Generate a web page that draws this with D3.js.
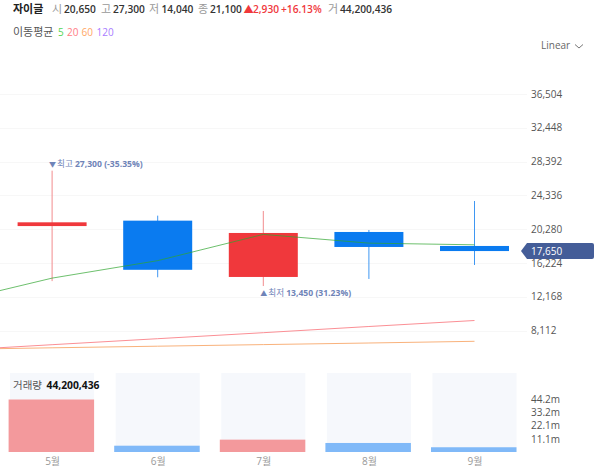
<!DOCTYPE html>
<html>
<head>
<meta charset="utf-8">
<script src="https://cdn.jsdelivr.net/npm/d3@7"></script>
<style>
  html, body { margin: 0; background: #fff; }
  text { font-family: "Open Sans", "Noto Sans CJK KR", sans-serif; }
</style>
</head>
<body>
<script>
// data
var months = ['5월', '6월', '7월', '8월', '9월'];
var opens = [20650, 21300, 14540, 19940, 18260];
var closes = [21100, 15400, 19820, 18140, 17650];
var highs = [27300, 21900, 22460, 20180, 23660];
var lows = [14040, 14500, 13450, 14300, 15980];
var volumes = [44200436, 5300000, 10400000, 7600000, 4000000];
var isUp = [true, false, true, false, false];

// the moving averages start one month before the first candle
var maMonths = ['4월'].concat(months);
var ma5 = [11370, 14400, 16500, 19650, 18600, 18400];
var ma20 = [5675, 6407, 7128, 7848, 8592, 9312];
var ma60 = [5831, 6035, 6227, 6419, 6611, 6815];

var priceTicks = [8112, 12168, 16224, 20280, 24336, 28392, 32448, 36504];
var volumeTicks = [11100000, 22100000, 33200000, 44200000];
var lastPrice = 17650;

// header pieces: text, left edge, kind
var headerParts = [
  ['자이글', 13, 'name'],
  ['시', 52, 'label'], ['20,650', 64, 'value'],
  ['고', 101, 'label'], ['27,300', 113, 'value'],
  ['저', 149, 'label'], ['14,040', 161.5, 'value'],
  ['종', 198, 'label'], ['21,100', 210, 'value'],
  ['▲', 243.5, 'change'], ['2,930', 253, 'change'], ['+16.13%', 281, 'change'],
  ['거', 328, 'label'], ['44,200,436', 340, 'value']
];
var legendParts = [
  ['이동평균', 13, '#555', 11], ['5', 58, '#55d655', 10], ['20', 67, '#ff7c85', 10],
  ['60', 81.5, '#ffa766', 10], ['120', 96.5, '#a97bff', 10]
];

var width = 600, height = 470;
var red = '#f0383c', blue = '#0a7bf0', navy = '#445d98', note = '#6f84b8';

var svg = d3.select('body').append('svg')
  .attr('width', width)
  .attr('height', height)
  .style('display', 'block');

// scales
var x = d3.scalePoint().domain(maMonths).range([-53.5, 474.5]);
var y = d3.scaleLinear().domain([8112, 36504]).range([330.5, 94]);
var yVol = d3.scaleLinear().domain([0, 44200000]).range([452, 399.5]);
var bodyWidth = 69, panelWidth = 84;

// header
var headerStyle = {
  name: { size: 11, weight: 700, color: '#222' },
  label: { size: 11, weight: 400, color: '#999' },
  value: { size: 10.2, weight: 600, color: '#333' },
  change: { size: 10.2, weight: 600, color: red }
};
svg.append('g').selectAll('text')
  .data(headerParts)
  .join('text')
  .attr('x', function(d) { return d[1]; })
  .attr('y', 13)
  .attr('font-size', function(d) { return headerStyle[d[2]].size; })
  .attr('font-weight', function(d) { return headerStyle[d[2]].weight; })
  .attr('fill', function(d) { return headerStyle[d[2]].color; })
  .text(function(d) { return d[0]; });

svg.append('g').selectAll('text')
  .data(legendParts)
  .join('text')
  .attr('x', function(d) { return d[1]; })
  .attr('y', 36)
  .attr('font-size', function(d) { return d[3]; })
  .attr('fill', function(d) { return d[2]; })
  .text(function(d) { return d[0]; });

svg.append('text')
  .attr('x', 541).attr('y', 49)
  .attr('font-size', 10).attr('fill', '#666')
  .text('Linear');
svg.append('path')
  .attr('d', 'M575,44.5 L579,48 L583,44.5')
  .attr('fill', 'none').attr('stroke', '#777');

// grid
svg.append('g').selectAll('line')
  .data(priceTicks)
  .join('line')
  .attr('x1', 0).attr('x2', 527)
  .attr('y1', function(d) { return Math.round(y(d)) + 0.5; })
  .attr('y2', function(d) { return Math.round(y(d)) + 0.5; })
  .attr('stroke', '#f7f7f7');

// moving averages
var line = d3.line()
  .x(function(d, i) { return x(maMonths[i]); })
  .y(function(d) { return y(d); });
var chart = svg.append('g');

[[ma60, '#f9b27c'], [ma20, '#fb8f95']].forEach(function(d) {
  chart.append('path')
    .attr('d', line(d[0]))
    .attr('fill', 'none')
    .attr('stroke', d[1]);
});

// candles
var candles = chart.selectAll('.candle')
  .data(months)
  .join('g')
  .attr('class', 'candle');

candles.append('line')
  .attr('x1', function(d) { return x(d); })
  .attr('x2', function(d) { return x(d); })
  .attr('y1', function(d, i) { return y(highs[i]); })
  .attr('y2', function(d, i) { return y(lows[i]); })
  .attr('stroke', function(d, i) { return isUp[i] ? '#f28b8e' : '#3f97f2'; });

candles.append('rect')
  .attr('x', function(d) { return x(d) - bodyWidth / 2; })
  .attr('width', bodyWidth)
  .attr('y', function(d, i) { return y(Math.max(opens[i], closes[i])); })
  .attr('height', function(d, i) { return Math.abs(y(opens[i]) - y(closes[i])); })
  .attr('fill', function(d, i) { return isUp[i] ? red : blue; });

// the short moving average runs over the candles, see-through so it turns dark on them
chart.append('path')
  .attr('d', line(ma5))
  .attr('fill', 'none')
  .attr('stroke', '#2fa52f')
  .attr('stroke-opacity', 0.7);

// high and low notes
function addNote(month, top, mark, label, str) {
  var g = svg.append('g').attr('fill', note);
  g.append('text')
    .attr('x', x(month) - 3).attr('y', top)
    .attr('font-size', 7)
    .text(mark);
  var t = g.append('text')
    .attr('x', x(month) + 5).attr('y', top)
    .attr('font-size', 8.6);
  t.append('tspan').text(label);
  t.append('tspan').attr('dx', 2).attr('font-weight', 700).text(str);
}
addNote('5월', 167, '▼', '최고', '27,300 (-35.35%)');
addNote('7월', 296, '▲', '최저', '13,450 (31.23%)');

// price axis
var axisY = d3.axisRight(y)
  .tickValues(priceTicks)
  .tickSize(0)
  .tickPadding(0)
  .tickFormat(d3.format(','));
var gy = svg.append('g')
  .attr('transform', 'translate(531,0)')
  .call(axisY);
gy.select('.domain').remove();
gy.selectAll('text')
  .attr('font-family', null)
  .attr('font-size', 10)
  .attr('fill', '#555');

// last price tag
var tagY = y(lastPrice);
svg.append('path')
  .attr('d', 'M521,' + tagY + ' L527,' + (tagY - 8) + ' H592 Q594,' + (tagY - 8) + ' 594,' + (tagY - 6) +
    ' V' + (tagY + 6) + ' Q594,' + (tagY + 8) + ' 592,' + (tagY + 8) + ' H527 Z')
  .attr('fill', navy);
svg.append('text')
  .attr('x', 531).attr('y', tagY + 3.5)
  .attr('font-size', 10).attr('fill', '#fff')
  .text(d3.format(',')(lastPrice));

// volume panels and bars
var volume = svg.append('g');
volume.selectAll('.panel')
  .data(months)
  .join('rect')
  .attr('class', 'panel')
  .attr('x', function(d) { return x(d) - 42; })
  .attr('width', panelWidth)
  .attr('y', 373)
  .attr('height', 79)
  .attr('fill', '#f6f8fc');
volume.selectAll('.bar')
  .data(months)
  .join('rect')
  .attr('class', 'bar')
  .attr('x', function(d) { return x(d) - 43.5; })
  .attr('width', panelWidth + 1.5)
  .attr('y', function(d, i) { return yVol(volumes[i]); })
  .attr('height', function(d, i) { return yVol(0) - yVol(volumes[i]); })
  .attr('fill', function(d, i) { return isUp[i] ? '#f3999c' : '#80b9f8'; });

svg.append('text')
  .attr('x', 13).attr('y', 389)
  .attr('font-size', 10.5).attr('fill', '#555')
  .text('거래량');
svg.append('text')
  .attr('x', 46.5).attr('y', 389)
  .attr('font-size', 10.3).attr('font-weight', 700).attr('fill', '#111')
  .text('44,200,436');

// month labels
var axisX = d3.axisBottom(d3.scalePoint().domain(months).range([x('5월'), x('9월')]))
  .tickSize(0)
  .tickPadding(0);
var gx = svg.append('g')
  .attr('transform', 'translate(0,457.5)')
  .call(axisX);
gx.select('.domain').remove();
gx.selectAll('text')
  .attr('font-family', null)
  .attr('font-size', 10)
  .attr('fill', '#999');

// volume axis
var axisV = d3.axisRight(yVol)
  .tickValues(volumeTicks)
  .tickSize(0)
  .tickPadding(0)
  .tickFormat(function(d) { return (d / 1e6).toFixed(1) + 'm'; });
var gv = svg.append('g')
  .attr('transform', 'translate(531,0)')
  .call(axisV);
gv.select('.domain').remove();
gv.selectAll('text')
  .attr('font-family', null)
  .attr('font-size', 10)
  .attr('fill', '#555');
</script>
</body>
</html>
